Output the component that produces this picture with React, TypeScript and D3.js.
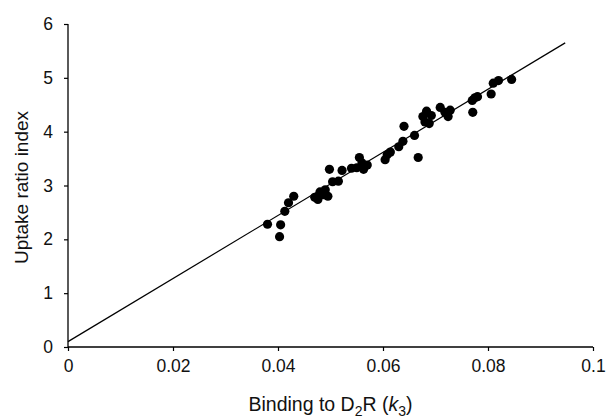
import { useRef, useEffect } from "react";
import * as d3 from "d3";

// binding to D2R (k3)
const bindingK3 = [
  0.038, 0.0403, 0.0405, 0.0413, 0.042, 0.043, 0.047, 0.0476, 0.048, 0.0487,
  0.049, 0.0495, 0.0498, 0.0504, 0.0515, 0.0522, 0.054, 0.055, 0.0555, 0.056,
  0.0563, 0.057, 0.0604, 0.0608, 0.0614, 0.063, 0.0638, 0.064, 0.066, 0.0667,
  0.0676, 0.068, 0.0683, 0.0688, 0.0692, 0.0709, 0.0718, 0.0724, 0.0728, 0.077,
  0.0771, 0.0775, 0.078, 0.0806, 0.081, 0.082, 0.0845,
];
// uptake ratio index
const uptakeRatio = [
  2.28, 2.05, 2.27, 2.52, 2.68, 2.8, 2.78, 2.74, 2.88, 2.83,
  2.92, 2.8, 3.3, 3.07, 3.08, 3.28, 3.32, 3.33, 3.52, 3.42,
  3.3, 3.38, 3.48, 3.57, 3.62, 3.72, 3.82, 4.1, 3.93, 3.52,
  4.28, 4.18, 4.38, 4.15, 4.3, 4.45, 4.36, 4.28, 4.4, 4.58,
  4.36, 4.63, 4.65, 4.7, 4.9, 4.95, 4.97,
];

// fitted regression line
const fitIntercept = 0.1;
const fitSlope = 58.6;
const fitRange = [0, 0.0947];

const xTicks = [0, 0.02, 0.04, 0.06, 0.08, 0.1];
const yTicks = [0, 1, 2, 3, 4, 5, 6];

export default function App() {
  const svgRef = useRef<SVGSVGElement>(null);

  useEffect(() => {
    const width = 606;
    const height = 420;
    const MARGIN = { top: 24, right: 13, bottom: 73, left: 68 };

    const svg = d3.select(svgRef.current);
    svg.selectAll("*").remove();
    svg.attr("width", width).attr("height", height);

    const x = d3.scaleLinear().domain([0, 0.1]).range([MARGIN.left, width - MARGIN.right]);
    const y = d3.scaleLinear().domain([0, 6]).range([height - MARGIN.bottom, MARGIN.top]);

    const font = "'Liberation Sans', Arial, sans-serif";

    // axes
    const xAxis = svg.append("g")
      .attr("transform", `translate(0,${y(0)})`)
      .call(d3.axisBottom(x).tickValues(xTicks).tickFormat(d => String(d)).tickSize(4).tickPadding(9));
    const yAxis = svg.append("g")
      .attr("transform", `translate(${x(0)},0)`)
      .call(d3.axisLeft(y).tickValues(yTicks).tickFormat(d3.format("d")).tickSize(4).tickPadding(11));

    [xAxis, yAxis].forEach(g => {
      g.select(".domain").attr("stroke", "#000").attr("stroke-width", 1.3);
      g.selectAll(".tick line").attr("stroke", "#000").attr("stroke-width", 1.2);
      g.selectAll(".tick text")
        .attr("fill", "#111")
        .style("font-family", font)
        .style("font-size", "17.5px");
    });
    xAxis.select(".domain").attr("d", `M${x(0)},0H${x(0.1)}`);
    yAxis.select(".domain").attr("d", `M0,${y(6)}V${y(0)}`);

    // regression line
    const fitLine = d3.line<number>()
      .x(d => x(d))
      .y(d => y(fitIntercept + fitSlope * d));
    svg.append("path")
      .datum(fitRange)
      .attr("d", fitLine)
      .attr("fill", "none")
      .attr("stroke", "#000")
      .attr("stroke-width", 1.2);

    // points
    svg.append("g")
      .selectAll("circle")
      .data(d3.range(bindingK3.length))
      .join("circle")
      .attr("cx", i => x(bindingK3[i]))
      .attr("cy", i => y(uptakeRatio[i]))
      .attr("r", 4.6)
      .attr("fill", "#000");

    // axis titles
    const xTitle = svg.append("text")
      .attr("x", (x(0) + x(0.1)) / 2)
      .attr("y", 411)
      .attr("text-anchor", "middle")
      .style("font-family", font)
      .style("font-size", "19.5px")
      .attr("fill", "#111");
    xTitle.append("tspan").text("Binding to D");
    xTitle.append("tspan").attr("dy", 5).style("font-size", "14px").text("2");
    xTitle.append("tspan").attr("dy", -5).text("R (");
    xTitle.append("tspan").style("font-style", "italic").text("k");
    xTitle.append("tspan").attr("dy", 5).style("font-size", "14px").text("3");
    xTitle.append("tspan").attr("dy", -5).text(")");

    svg.append("text")
      .attr("transform", `translate(28,${(y(0) + y(6)) / 2 + 2}) rotate(-90)`)
      .attr("text-anchor", "middle")
      .style("font-family", font)
      .style("font-size", "19px")
      .attr("fill", "#111")
      .text("Uptake ratio index");
  }, []);

  return (
    <div style={{ position: "absolute", left: 0, top: 0 }}>
      <svg ref={svgRef} style={{ display: "block" }}></svg>
    </div>
  );
}
